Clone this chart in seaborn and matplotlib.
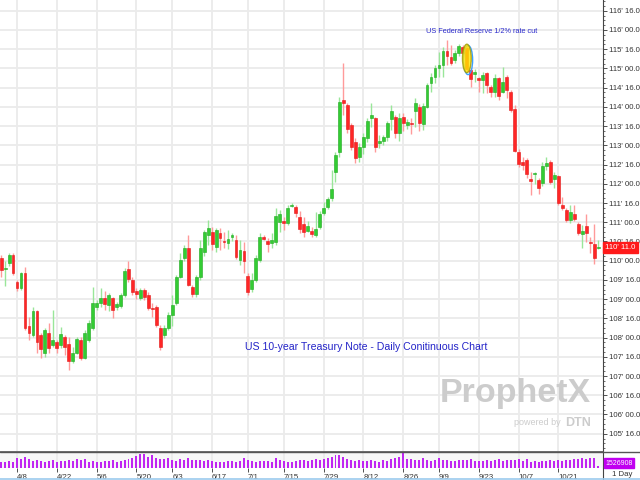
import numpy as np
import pandas as pd
import seaborn as sns
import matplotlib
matplotlib.use("Agg")
import matplotlib.pyplot as plt
from matplotlib.patches import Ellipse
from matplotlib.ticker import FuncFormatter, MultipleLocator
import matplotlib.transforms as mtransforms

# Daily OHLC of US 10-year T-Note, decimal points
opens = [110.06, 109.78, 109.93, 110.14, 109.44, 109.28, 109.67, 108.30, 108.06, 108.69,
         108.06, 107.60, 108.11, 107.80, 107.88, 107.80, 108.01, 107.83, 107.39, 107.60,
         107.93, 107.47, 107.93, 108.24, 108.79, 108.89, 109.02, 108.84, 109.02, 108.79,
         108.81, 109.10, 109.78, 109.49, 109.20, 109.02, 109.23, 109.10, 108.76, 108.79,
         108.24, 108.06, 108.24, 108.58, 108.89, 109.57, 110.06, 110.32, 109.31, 109.13,
         109.57, 110.22, 110.66, 110.74, 110.35, 110.71, 110.50, 110.45, 110.61, 110.53,
         110.01, 110.25, 109.60, 109.26, 109.49, 110.01, 110.61, 110.50, 110.45, 110.48,
         111.00, 111.00, 110.98, 111.42, 111.40, 111.13, 110.95, 110.77, 110.77, 110.66,
         110.87, 111.24, 111.40, 111.63, 112.30, 112.82, 114.17, 114.04, 113.52, 113.08,
         112.69, 112.95, 113.18, 113.70, 113.70, 113.06, 113.11, 113.21, 113.68, 113.73,
         113.32, 113.73, 113.52, 113.58, 113.89, 113.99, 113.55, 113.99, 114.61, 114.77,
         115.00, 115.10, 115.45, 115.29, 115.21, 115.40, 115.55, 115.53, 114.95, 114.85,
         114.74, 114.69, 114.87, 114.53, 114.38, 114.74, 114.38, 114.77, 114.38, 113.94,
         112.82, 112.56, 112.61, 112.12, 112.25, 112.09, 112.02, 112.46, 112.56, 112.12,
         112.20, 111.45, 111.32, 111.06, 111.21, 110.95, 110.69, 110.90, 110.48, 110.43,
         110.32]
highs = [110.15, 110.00, 110.20, 110.20, 109.50, 109.70, 109.83, 108.53, 108.79, 108.71,
         108.11, 108.24, 108.37, 108.71, 107.93, 108.27, 108.06, 108.01, 107.75, 108.01,
         108.01, 108.19, 108.45, 109.31, 108.97, 109.28, 109.20, 109.15, 109.05, 108.92,
         109.15, 109.80, 109.99, 109.57, 109.30, 109.30, 109.30, 109.18, 108.89, 108.84,
         108.32, 108.32, 108.66, 109.10, 109.62, 110.20, 110.40, 110.66, 109.36, 109.62,
         110.53, 110.79, 111.05, 110.87, 110.84, 110.84, 110.74, 110.79, 110.71, 110.66,
         110.53, 110.48, 109.68, 109.68, 110.14, 110.71, 110.66, 110.58, 110.71, 111.37,
         111.32, 111.13, 111.45, 111.50, 111.45, 111.29, 111.13, 111.03, 110.87, 111.26,
         111.29, 111.53, 111.66, 112.35, 112.82, 114.25, 115.14, 114.10, 113.58, 113.18,
         113.05, 113.32, 113.70, 114.10, 113.73, 113.26, 113.26, 113.63, 114.04, 113.78,
         113.83, 113.83, 113.68, 113.70, 114.22, 114.07, 114.10, 114.61, 114.87, 115.08,
         115.42, 115.55, 115.73, 115.60, 115.47, 115.63, 115.60, 115.60, 115.00, 114.98,
         114.79, 114.90, 114.90, 114.58, 114.85, 114.79, 115.03, 114.82, 114.43, 114.04,
         112.90, 112.69, 112.66, 112.30, 112.30, 112.15, 112.56, 112.69, 112.61, 112.30,
         112.22, 111.65, 111.37, 111.45, 111.45, 111.00, 110.92, 111.21, 110.61, 110.95,
         110.53]
lows = [109.58, 109.35, 109.85, 109.62, 109.20, 109.23, 108.19, 107.93, 108.01, 107.59,
        107.46, 107.49, 107.59, 107.75, 107.59, 107.72, 107.54, 107.15, 107.34, 107.57,
        107.41, 107.44, 107.88, 108.19, 108.71, 108.79, 108.71, 108.69, 108.50, 108.71,
        108.76, 109.05, 109.44, 109.10, 109.00, 108.97, 108.97, 108.71, 108.53, 108.27,
        107.67, 107.98, 108.19, 108.30, 108.84, 109.54, 110.00, 109.33, 109.05, 109.05,
        109.49, 110.12, 110.40, 110.27, 110.22, 110.27, 110.32, 110.30, 110.50, 110.04,
        109.88, 109.68, 109.10, 109.18, 109.44, 109.96, 110.53, 110.22, 110.32, 110.40,
        110.74, 110.79, 110.92, 111.40, 111.13, 110.71, 110.61, 110.74, 110.61, 110.61,
        110.82, 111.18, 111.34, 111.55, 112.04, 112.69, 113.78, 113.32, 112.87, 112.54,
        112.56, 112.77, 113.08, 113.47, 112.82, 112.92, 113.00, 113.11, 113.40, 113.18,
        113.11, 113.37, 113.42, 113.30, 113.47, 113.37, 113.40, 113.96, 114.38, 114.61,
        114.79, 114.79, 115.10, 115.10, 115.14, 115.32, 115.27, 114.92, 114.53, 114.66,
        114.40, 114.35, 114.35, 114.25, 114.25, 114.17, 114.35, 114.22, 113.86, 112.82,
        112.43, 112.35, 112.15, 111.70, 111.99, 111.73, 111.94, 112.35, 111.99, 111.89,
        111.45, 111.32, 111.00, 110.98, 111.03, 110.66, 110.33, 110.48, 110.20, 109.91,
        110.30]
closes = [109.75, 109.82, 110.14, 109.68, 109.28, 109.67, 108.24, 108.11, 108.69, 107.88,
          107.70, 108.19, 107.72, 107.93, 107.72, 108.09, 107.75, 107.39, 107.60, 107.96,
          107.47, 108.11, 108.37, 108.89, 108.89, 109.02, 108.87, 109.10, 108.71, 108.87,
          109.10, 109.73, 109.52, 109.18, 109.13, 109.23, 109.05, 108.76, 108.74, 108.32,
          107.75, 108.24, 108.58, 108.84, 109.57, 110.01, 110.32, 109.36, 109.13, 109.57,
          110.32, 110.74, 110.84, 110.43, 110.79, 110.58, 110.48, 110.56, 110.66, 110.09,
          110.27, 109.99, 109.18, 109.49, 110.06, 110.61, 110.56, 110.43, 110.53, 111.16,
          111.21, 110.98, 111.37, 111.45, 111.24, 110.82, 110.74, 110.90, 110.69, 110.82,
          111.21, 111.37, 111.61, 111.87, 112.74, 114.12, 114.10, 113.42, 112.95, 112.67,
          112.95, 113.21, 113.63, 113.78, 112.95, 113.11, 113.21, 113.58, 113.89, 113.32,
          113.70, 113.58, 113.60, 113.55, 114.10, 113.58, 114.02, 114.56, 114.77, 115.00,
          115.10, 115.45, 115.32, 115.14, 115.40, 115.58, 115.40, 114.98, 114.72, 114.90,
          114.69, 114.82, 114.56, 114.38, 114.74, 114.28, 114.66, 114.43, 113.91, 112.85,
          112.51, 112.48, 112.25, 112.07, 112.27, 111.89, 112.46, 112.53, 112.04, 112.22,
          111.50, 111.37, 111.06, 111.26, 111.08, 110.72, 110.77, 110.72, 110.45, 110.06,
          110.34]
volume = [1050, 980, 1120, 940,
          1650, 1480, 1720, 1390, 1210, 1350, 1120, 1010, 1080, 1260,
          980, 1070, 1190, 1280, 1150, 1420, 1310, 1460, 1020, 1090,
          1010, 940, 1060, 1130, 1240, 1000, 1100, 1320, 1450, 1700,
          1900, 2250, 2350, 1800, 2100, 1650, 1500, 1400, 1550,
          1350, 1200, 1500, 1280, 1600, 1380, 1250, 1300, 1150, 1220,
          1100, 1050, 1000, 1020, 1120, 1080, 1000, 1150, 1550,
          1250, 1100, 1050, 1120, 1160, 1080, 1050, 1550, 1250,
          1150, 1050, 1000, 1100, 1300, 1250, 1150, 1300, 1400, 1350,
          1500, 1650, 1850, 2050, 2150, 1800, 1450, 1300, 1200, 1250,
          1100, 1180, 1350, 1150, 1000, 1250, 1100, 1400, 1650, 1800,
          3200, 1500, 1400, 1350, 1300, 1550, 1250, 1200, 1300, 1550,
          1250, 1300, 1200, 1150, 1250, 1300, 1350, 1400, 1150, 1100,
          1200, 1250, 1150, 1300, 1400, 1200, 1350, 1250, 1300, 1450,
          1100, 1400, 1000, 1150, 1050, 1100, 1200, 1300, 1150, 1350,
          1100, 1250, 1300, 1400, 1450, 1600, 1500, 1550, 1700, 350]

holidays = ['2024-05-27', '2024-06-19', '2024-07-04', '2024-09-02']
date_labels = ['4/8', '4/22', '5/6', '5/20', '6/3', '6/17', '7/1', '7/15',
               '7/29', '8/12', '8/26', '9/9', '9/23', '10/7', '10/21']
fed_day = '2024-09-18'
last_price = "110' 11.0"
last_volume = "1526908"

dates = pd.bdate_range('2024-04-02', '2024-11-04', freq='C', holidays=holidays)
df = pd.DataFrame({'date': dates, 'open': opens, 'high': highs, 'low': lows,
                   'close': closes, 'volume': volume})
df['idx'] = np.arange(len(df))
df['up'] = df['close'] >= df['open']
df['lab'] = df['date'].dt.month.astype(str) + '/' + df['date'].dt.day.astype(str)

sns.set_theme(style="white")
plt.rcParams['font.family'] = ['Liberation Sans', 'DejaVu Sans']

fig = plt.figure(figsize=(6.4, 4.8), dpi=100)
ax = fig.add_axes([0, 29 / 480, 603 / 640, 451 / 480])
axv = fig.add_axes([0, 12 / 480, 603 / 640, 16 / 480])

green, red = '#33cc33', '#ff2626'
wick_green, wick_red = '#99e699', '#ff9a9a'

# grid
tick_idx = df.loc[df['lab'].isin(date_labels), 'idx'].values
for t in tick_idx:
    ax.axvline(t, color='#ebebeb', lw=1.3, zorder=0)
    axv.axvline(t, color='#ebebeb', lw=1.3, zorder=0)
ax.yaxis.set_major_locator(MultipleLocator(0.5))
ax.yaxis.set_minor_locator(MultipleLocator(0.125))
ax.grid(axis='y', color='#ebebeb', lw=1.3)
ax.set_axisbelow(True)

# candles
ax.vlines(df['idx'], df['low'], df['high'],
          colors=np.where(df['up'], wick_green, wick_red), lw=1, zorder=2)
body_lo = df[['open', 'close']].min(axis=1)
body_h = (df['close'] - df['open']).abs().clip(lower=0.04)
ax.bar(df['idx'], body_h, bottom=body_lo, width=0.72,
       color=np.where(df['up'], green, red),
       edgecolor=np.where(df['up'], '#22a822', '#e01818'), lw=0.4, zorder=3)

# fed highlight
fi = df.loc[df['date'] == fed_day].iloc[0]
mid = (fi['high'] + fi['low']) / 2
ax.add_patch(Ellipse((fi['idx'] + 0.3, mid - 0.04), 2.3, 0.76, fc='none',
                     ec='#3aa0ff', lw=1.0, zorder=4))
ax.add_patch(Ellipse((fi['idx'], mid), 2.2, 0.74, fc='#ffe600', alpha=0.8,
                     ec='#a09a00', lw=1.0, zorder=4))
ax.text(120.6, 115.97, 'US Federal Reserve 1/2% rate cut', color='#2a2acc',
        fontsize=5.3, ha='center', va='center')

ax.text(91.7, 107.76, 'US 10-year Treasury Note - Daily Conitinuous Chart',
        color='#2424c8', fontsize=7.6, ha='center', va='center')

# watermark
ax.text(0.729, 0.128, 'ProphetX', transform=ax.transAxes, fontsize=24.5,
        fontweight='bold', color='#cccccc', ha='left', va='center', zorder=1)
ax.text(0.853, 0.063, 'powered by', transform=ax.transAxes, fontsize=6.5,
        color='#cccccc', ha='left', va='center', zorder=1)
ax.text(0.938, 0.063, 'DTN', transform=ax.transAxes, fontsize=9,
        fontweight='bold', color='#cccccc', ha='left', va='center', zorder=1)

ax.set_xlim(-0.28, 151.2)
ax.set_ylim(105.05, 116.78)
ax.set_xticks([])
ax.yaxis.tick_right()


def fmt32(p, pos):
    whole = int(np.floor(p + 1e-9))
    return f"{whole}' {(p - whole) * 32:04.1f}"


ax.yaxis.set_major_formatter(FuncFormatter(fmt32))
ax.tick_params(axis='y', which='major', right=True, length=3, width=0.6,
               labelsize=5.6, pad=1.5, colors='#333333')
ax.tick_params(axis='y', which='minor', right=True, length=1.5, width=0.5,
               colors='#333333')
for s in ['top', 'left', 'bottom']:
    ax.spines[s].set_visible(False)
ax.spines['right'].set_color('#444444')
ax.spines['right'].set_linewidth(0.8)

# last price tag
trans = mtransforms.blended_transform_factory(ax.transAxes, ax.transData)
ax.text(1.004, df['close'].iloc[-1], last_price, transform=trans, fontsize=5.6,
        color='white', ha='left', va='center', zorder=10,
        bbox=dict(boxstyle='square,pad=0.25', fc='#ff1a1a', ec='#ff1a1a'))

# volume pane
sns.barplot(x=df['idx'], y=df['volume'], native_scale=True, color='#c026f2',
            saturation=1, width=0.5, linewidth=0, errorbar=None, ax=axv,
            zorder=2)
axv.set_xlim(-0.28, 151.2)
axv.set_ylim(0, 2600)
axv.set_ylabel('')
axv.set_xlabel('')
axv.set_yticks([])
axv.set_facecolor('#f7f7f7')
axv.set_xticks(tick_idx)
axv.set_xticklabels(date_labels)
offset = mtransforms.ScaledTranslation(2 / 100, 0, fig.dpi_scale_trans)
for lab in axv.get_xticklabels():
    lab.set_horizontalalignment('left')
    lab.set_transform(lab.get_transform() + offset)
axv.tick_params(axis='x', length=3, width=0.6, labelsize=5.6, pad=1,
                colors='#333333', bottom=True)
for s in ['left', 'bottom']:
    axv.spines[s].set_visible(False)
axv.spines['top'].set_color('#555555')
axv.spines['top'].set_linewidth(1.2)
axv.spines['right'].set_color('#444444')
axv.spines['right'].set_linewidth(0.8)
axv.text(1.004, 0.3, last_volume, transform=axv.transAxes, fontsize=5,
         color='white', ha='left', va='center',
         bbox=dict(boxstyle='square,pad=0.2', fc='#c000f0', ec='#c000f0'))

fig.text(612 / 640, 6 / 480, '1 Day', fontsize=5.6, color='#333333',
         ha='left', va='center')
fig.add_artist(plt.Line2D([0, 1], [28 / 480, 28 / 480], color='#555555', lw=1.0))
fig.add_artist(plt.Line2D([603 / 640, 603 / 640], [0, 12 / 480], color='#444444', lw=0.8))
fig.add_artist(plt.Line2D([0, 1], [0.8 / 480, 0.8 / 480], color='#9ccbee', lw=1.2))

fig.savefig('out.png', dpi=100)
